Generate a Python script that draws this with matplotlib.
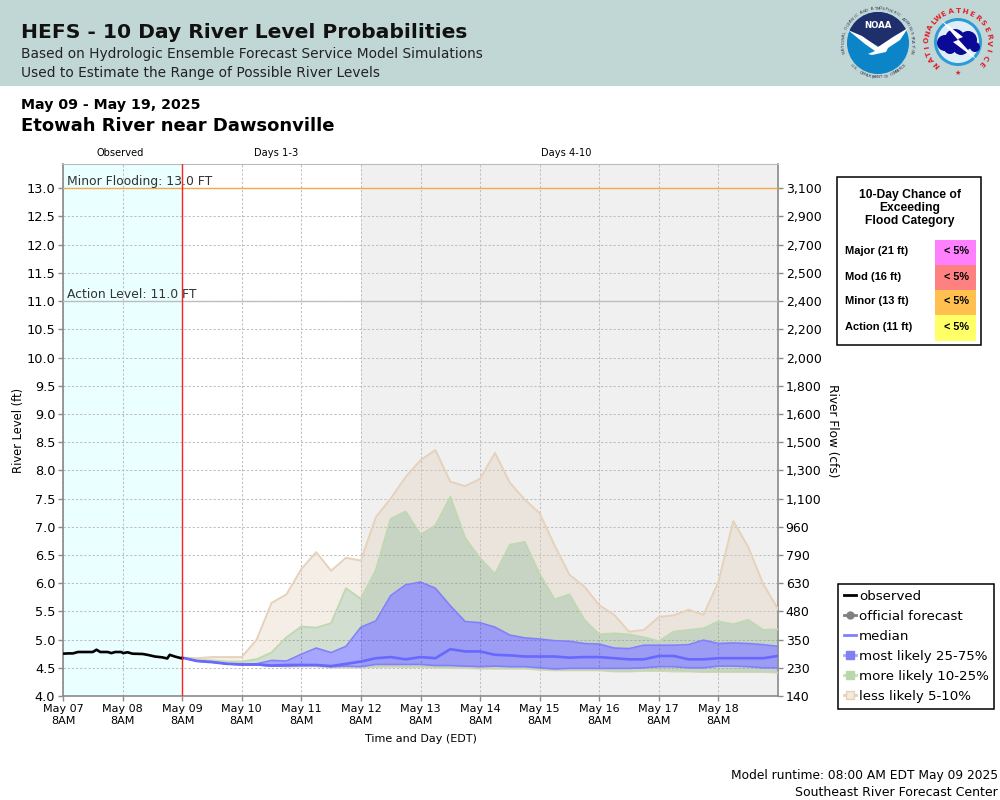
import numpy as np
import matplotlib
matplotlib.use("Agg")
import matplotlib.pyplot as plt
from matplotlib.lines import Line2D
from matplotlib.patches import Rectangle, Circle, Polygon

# ---------- data ----------
obs_hours = [0, 2, 4, 6, 8, 10, 12, 13.5, 15, 18, 19.5, 21, 23.5, 24.2, 26, 28, 32, 34, 37, 40, 42, 43, 45, 48]
obs_level = [4.75, 4.755, 4.755, 4.78, 4.78, 4.78, 4.78, 4.82, 4.78, 4.78, 4.76, 4.78, 4.78, 4.76, 4.775, 4.75, 4.745, 4.73, 4.70, 4.685, 4.665, 4.73, 4.70, 4.665]

tan_high = [4.68, 4.67, 4.69, 4.69, 4.69, 5.00, 5.65, 5.80, 6.25, 6.55, 6.22, 6.45, 6.40, 7.17, 7.50, 7.88, 8.18, 8.36, 7.80, 7.72, 7.85,
            8.31, 7.78, 7.48, 7.24, 6.67, 6.15, 5.94, 5.61, 5.44, 5.14, 5.17, 5.40, 5.43, 5.53, 5.44, 6.02, 7.10, 6.64, 5.99, 5.54]
green_high = [4.68, 4.64, 4.63, 4.61, 4.61, 4.65, 4.77, 5.04, 5.23, 5.21, 5.29, 5.91, 5.72, 6.23, 7.14, 7.27, 6.86, 7.02, 7.53, 6.80, 6.44,
              6.16, 6.68, 6.73, 6.16, 5.71, 5.80, 5.35, 5.09, 5.11, 5.09, 5.04, 4.97, 5.14, 5.17, 5.20, 5.32, 5.27, 5.35, 5.17, 5.18]
blue_high = [4.68, 4.62, 4.61, 4.57, 4.56, 4.57, 4.63, 4.62, 4.74, 4.85, 4.77, 4.88, 5.22, 5.33, 5.78, 5.97, 6.02, 5.91, 5.60, 5.32, 5.30,
             5.22, 5.08, 5.03, 5.01, 4.98, 4.97, 4.93, 4.92, 4.85, 4.84, 4.90, 4.90, 4.90, 4.91, 4.99, 4.93, 4.94, 4.93, 4.91, 4.88]
median = [4.68, 4.62, 4.60, 4.57, 4.56, 4.56, 4.54, 4.55, 4.55, 4.55, 4.53, 4.57, 4.61, 4.67, 4.69, 4.65, 4.69, 4.67, 4.83, 4.79, 4.79,
          4.73, 4.72, 4.70, 4.70, 4.70, 4.68, 4.69, 4.69, 4.67, 4.65, 4.65, 4.71, 4.71, 4.65, 4.65, 4.67, 4.67, 4.67, 4.67, 4.71]
blue_low = [4.68, 4.62, 4.60, 4.57, 4.55, 4.55, 4.53, 4.53, 4.54, 4.54, 4.52, 4.53, 4.52, 4.56, 4.56, 4.56, 4.56, 4.54, 4.54, 4.53, 4.52,
            4.53, 4.52, 4.52, 4.50, 4.48, 4.49, 4.49, 4.49, 4.49, 4.49, 4.50, 4.52, 4.52, 4.50, 4.50, 4.53, 4.53, 4.52, 4.50, 4.50]
green_low = [4.68, 4.62, 4.60, 4.57, 4.55, 4.55, 4.53, 4.52, 4.53, 4.53, 4.51, 4.51, 4.51, 4.52, 4.53, 4.52, 4.52, 4.51, 4.50, 4.50, 4.49,
             4.49, 4.49, 4.49, 4.47, 4.46, 4.46, 4.46, 4.46, 4.44, 4.44, 4.45, 4.45, 4.45, 4.44, 4.43, 4.43, 4.43, 4.43, 4.43, 4.42]
tan_low = [4.68, 4.62, 4.60, 4.57, 4.55, 4.55, 4.53, 4.52, 4.52, 4.52, 4.50, 4.50, 4.50, 4.51, 4.51, 4.51, 4.51, 4.50, 4.49, 4.49, 4.48,
           4.48, 4.48, 4.48, 4.46, 4.45, 4.45, 4.45, 4.45, 4.43, 4.43, 4.44, 4.44, 4.43, 4.43, 4.42, 4.42, 4.42, 4.42, 4.42, 4.41]

date_labels = ["May 07", "May 08", "May 09", "May 10", "May 11", "May 12", "May 13", "May 14", "May 15", "May 16", "May 17", "May 18"]
level_ticks = [4.0, 4.5, 5.0, 5.5, 6.0, 6.5, 7.0, 7.5, 8.0, 8.5, 9.0, 9.5, 10.0, 10.5, 11.0, 11.5, 12.0, 12.5, 13.0]
flow_labels = ["140", "230", "350", "480", "630", "790", "960", "1,100", "1,300", "1,500", "1,600", "1,800", "2,000", "2,200", "2,400", "2,500", "2,700", "2,900", "3,100"]
flood_rows = ["Major (21 ft)", "Mod (16 ft)", "Minor (13 ft)", "Action (11 ft)"]
flood_chance = ["< 5%", "< 5%", "< 5%", "< 5%"]
flood_colors = ["#FF80FF", "#FF8080", "#FFC050", "#FFFF66"]

HOURS_PER_DAY = 24
fc_hours = np.arange(48, 289, 6)

W, H = 1000, 800
fig = plt.figure(figsize=(W / 100, H / 100), dpi=100, facecolor="white")
plt.rcParams["font.family"] = "DejaVu Sans"

# overlay in pixel coordinates for page furniture
page = fig.add_axes([0, 0, 1, 1], zorder=0)
page.set_xlim(0, W); page.set_ylim(H, 0); page.axis("off")

# ---------- main axes ----------
L, R, T, B = 63, 778, 164, 696
ax = fig.add_axes([L / W, 1 - B / H, (R - L) / W, (B - T) / H], zorder=2)
ax.set_xlim(0, 288)
ax.set_ylim(4.0, 13.43)
ax.set_facecolor("white")
ax.axvspan(0, 48, color="#EAFFFF", lw=0, zorder=0)
ax.axvspan(120, 288, color="#F0F0F0", lw=0, zorder=0)
ax.set_xticks(np.arange(0, 12) * HOURS_PER_DAY)
ax.set_xticklabels([d + "\n8AM" for d in date_labels], fontsize=8, linespacing=1.3)
ax.set_yticks(level_ticks)
ax.set_yticklabels([f"{v:.1f}" for v in level_ticks], fontsize=9.3)
ax.grid(True, color="#C0C0C0", ls=(0, (2.2, 1.8)), lw=0.75, zorder=1)
ax.set_axisbelow(True)
for s in ax.spines.values():
    s.set_color("#8A8A8A"); s.set_linewidth(1.2)
ax.spines["top"].set_color("#BBBBBB"); ax.spines["top"].set_linewidth(0.8)
ax.tick_params(axis="both", color="#8A8A8A", length=3.5, width=1, pad=2)
ax.set_ylabel("River Level (ft)", fontsize=8.3, labelpad=1)
ax.set_xlabel("Time and Day (EDT)", fontsize=8, labelpad=6)

ax.axhline(13.0, color="#F4A94A", lw=1, zorder=3)
ax.axhline(11.0, color="#BDBDBD", lw=1, zorder=3)
ax.text(1.5, 13.115, "Minor Flooding: 13.0 FT", fontsize=8.9, color="#333333", va="center", zorder=6)
ax.text(1.5, 11.115, "Action Level: 11.0 FT", fontsize=8.9, color="#333333", va="center", zorder=6)

tan = (225 / 255, 205 / 255, 180 / 255)
green = (110 / 255, 150 / 255, 100 / 255)
blue = (0, 0, 1)
ax.fill_between(fc_hours, green_high, tan_high, color=tan, alpha=0.33, lw=0, zorder=2)
ax.fill_between(fc_hours, tan_low, green_low, color=tan, alpha=0.33, lw=0, zorder=2)
ax.fill_between(fc_hours, blue_high, green_high, color=green, alpha=0.31, lw=0, zorder=2)
ax.fill_between(fc_hours, green_low, blue_low, color=green, alpha=0.31, lw=0, zorder=2)
ax.fill_between(fc_hours, blue_low, blue_high, color=blue, alpha=0.35, lw=0, zorder=2)
for series, col, lw in [(tan_high, "#E6D2BB", 1.4), (tan_low, "#E6D2BB", 1.0),
                        (green_high, "#BFD8B2", 1.4), (green_low, "#BFD8B2", 1.0),
                        (blue_high, "#8080FF", 1.2), (blue_low, "#8080FF", 1.2)]:
    ax.plot(fc_hours, series, color=col, lw=lw, zorder=3)
ax.plot(fc_hours, median, color="#6868FF", lw=1.9, zorder=4)
ax.plot(obs_hours, obs_level, color="black", lw=1.9, zorder=5)
ax.axvline(48, color="#FF2020", lw=1, zorder=5)

ax.text(23.2, 1.012, "Observed", transform=ax.get_xaxis_transform(), ha="center", va="bottom", fontsize=7.1)
ax.text(86, 1.012, "Days 1-3", transform=ax.get_xaxis_transform(), ha="center", va="bottom", fontsize=7.1)
ax.text(202.6, 1.012, "Days 4-10", transform=ax.get_xaxis_transform(), ha="center", va="bottom", fontsize=7.1)

ax2 = ax.twinx()
ax2.set_ylim(ax.get_ylim())
ax2.set_yticks(level_ticks)
ax2.set_yticklabels(flow_labels, fontsize=9)
ax2.tick_params(axis="y", color="#8A8A8A", length=3.5, width=1, pad=2)
for s in ax2.spines.values():
    s.set_visible(False)
fig.text(832 / W, 1 - 431 / H, "River Flow (cfs)", rotation=270, fontsize=8.7, ha="center", va="center")

# ---------- header ----------
page.add_patch(Rectangle((0, 0), W, 86, color="#C1D7D5", lw=0))
page.text(21, 33, "HEFS - 10 Day River Level Probabilities", fontsize=14.6, fontweight="bold", va="center", color="#111111")
page.text(21, 54, "Based on Hydrologic Ensemble Forecast Service Model Simulations", fontsize=9.95, va="center", color="#222222")
page.text(21, 73, "Used to Estimate the Range of Possible River Levels", fontsize=9.95, va="center", color="#222222")
page.text(21, 105, "May 09 - May 19, 2025", fontsize=10.2, fontweight="bold", va="center")
page.text(21, 126, "Etowah River near Dawsonville", fontsize=13, fontweight="bold", va="center")
page.text(998, 776, "Model runtime: 08:00 AM EDT May 09 2025", fontsize=8.8, ha="right", va="center")
page.text(998, 792, "Southeast River Forecast Center", fontsize=9, ha="right", va="center")


def ring_text(text, cx, cy, r, start, end, flip=False, **kw):
    angs = np.linspace(start, end, len(text))
    for ch, a in zip(text, angs):
        t = np.deg2rad(a)
        page.text(cx + r * np.cos(t), cy - r * np.sin(t), ch, rotation=a + 90 if flip else a - 90,
                  ha="center", va="center", rotation_mode="anchor", **kw)


# NOAA logo
cx, cy = 878, 43
page.add_patch(Circle((cx, cy), 31, color="#0B84C8", lw=0))
navy = Polygon([(845, 8), (911, 8), (911, 28), (880, 47), (847, 30)], color="#1F2F6B", lw=0)
page.add_patch(navy)
navy.set_clip_path(Circle((cx, cy), 31, transform=page.transData))
page.add_patch(Polygon([(848, 30), (862, 36), (878, 47), (893, 37), (908, 28), (900, 40), (888, 48), (886, 52),
                        (872, 55), (868, 54), (875, 51), (865, 44)], color="white", lw=0))
page.text(cx, 26, "NOAA", color="white", fontsize=6.2, fontweight="bold", ha="center", va="center")
ring_text("NATIONAL OCEANIC AND ATMOSPHERIC ADMINISTRATION", cx, cy, 34.5, 195, -15, fontsize=2.9, color="#333355")
ring_text("U.S. DEPARTMENT OF COMMERCE", cx, cy, 34.5, 220, 320, flip=True, fontsize=2.9, color="#333355")

# NWS logo
cx, cy = 958, 42
page.add_patch(Circle((cx, cy), 24, color="#2E9AD6", lw=0))
page.add_patch(Circle((cx, cy), 21, color="#DDEEF7", lw=0))
for ex, ey, er in [(945, 43, 8), (955, 39, 10), (968, 40, 9), (975, 47, 5), (961, 47, 8), (950, 48, 6)]:
    page.add_patch(Circle((ex, ey), er, color="#0A0A96", lw=0))
page.add_patch(Polygon([(941, 20), (963, 37), (958, 39), (977, 60), (953, 42), (958, 40)], color="white", lw=0))
ring_text("WEATHER", cx, cy, 31, 130, 50, fontsize=5.2, fontweight="bold", color="#E0202A")
ring_text("SERVICE", cx, cy, 31, 38, -42, fontsize=5.2, fontweight="bold", color="#E0202A")
ring_text("NATIONAL", cx, cy, 31, 226, 140, fontsize=5.2, fontweight="bold", color="#E0202A")
page.text(cx, 72.5, "★", fontsize=5, color="#E0202A", ha="center", va="center")

# ---------- flood table ----------
page.add_patch(Rectangle((836.5, 177), 144, 168, fc="white", ec="black", lw=1.1))
for txt, y in zip(["10-Day Chance of", "Exceeding", "Flood Category"], [195, 208, 221]):
    page.text(910, y, txt, family="Liberation Sans", fontweight="bold", fontsize=8.7, ha="center", va="center")
for i, (lab, chance, col) in enumerate(zip(flood_rows, flood_chance, flood_colors)):
    y0 = 240 + i * 25
    page.add_patch(Rectangle((935, y0), 41, 26 if i == 3 else 25, color=col, lw=0))
    page.text(845, y0 + 11.5, lab, family="Liberation Sans", fontweight="bold", fontsize=8, va="center")
    page.text(957, y0 + 11.5, chance, family="Liberation Sans", fontweight="bold", fontsize=7.8, ha="center", va="center")

# ---------- legend ----------
handles = [
    Line2D([], [], color="black", lw=2),
    Line2D([], [], color="#808080", lw=2, marker="o", ms=5),
    Line2D([], [], color="#8080FF", lw=2),
    Line2D([], [], color="#A8A8F8", lw=2, marker="s", ms=5.5, mfc="#8080F0", mec="#8080F0"),
    Line2D([], [], color="#C5DDB8", lw=2, marker="s", ms=5.5, mfc="#B8D8A8", mec="#B8D8A8"),
    Line2D([], [], color="#E6D2BB", lw=2, marker="s", ms=5.5, mfc="#F3E9DD", mec="#E6D2BB"),
]
leg = fig.legend(handles, ["observed", "official forecast", "median", "most likely 25-75%", "more likely 10-25%", "less likely 5-10%"],
                 loc="upper left", bbox_to_anchor=(838 / W, 1 - 584 / H), borderaxespad=0, fontsize=9.6,
                 frameon=True, fancybox=False, edgecolor="black", framealpha=1,
                 handlelength=0.95, handletextpad=0.2, labelspacing=0.53, borderpad=0.42)
leg.get_frame().set_linewidth(1.1)
leg.set_zorder(10)

fig.savefig("out.png", dpi=100)
